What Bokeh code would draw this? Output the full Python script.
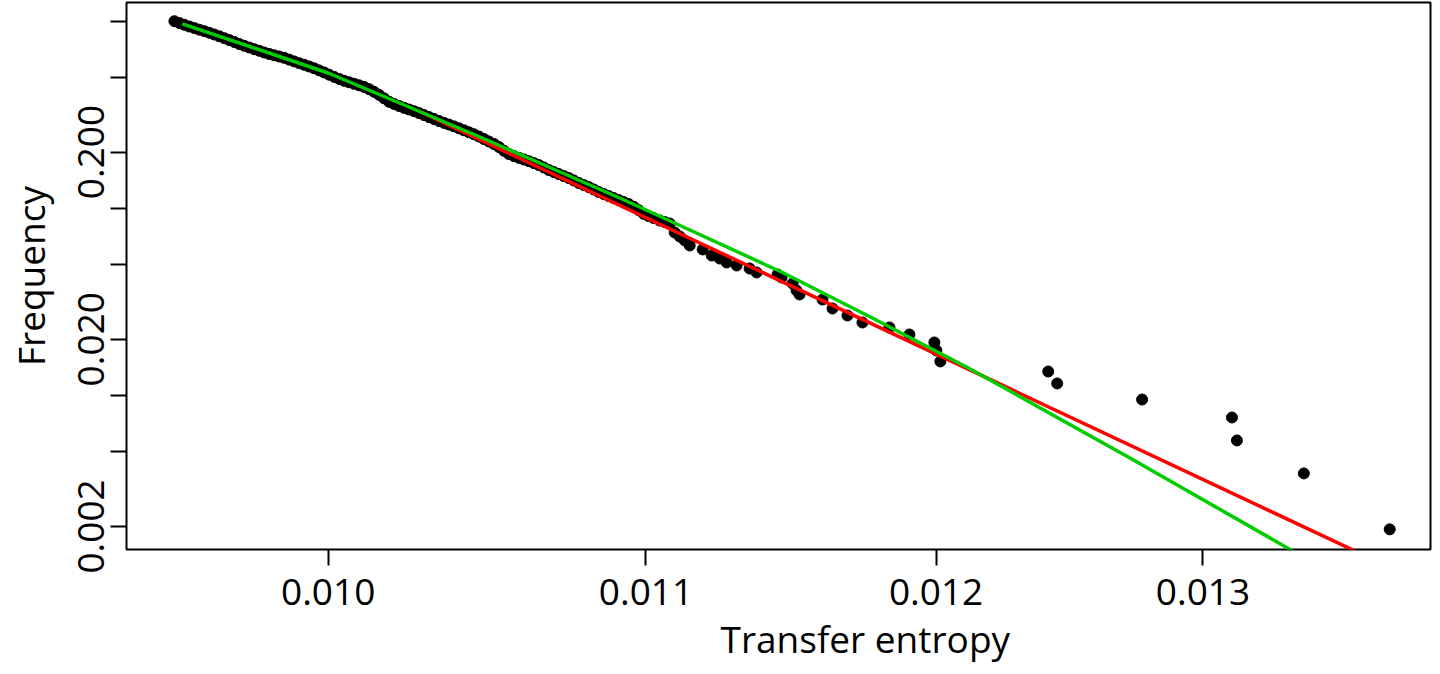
from bokeh.plotting import figure
from bokeh.models import Range1d, FixedTicker, Title
from bokeh.embed import file_html
from bokeh.resources import INLINE

# Empirical CCDF points (transfer entropy, frequency), read along the dense band
te = [0.0095493, 0.0095636, 0.0095779, 0.0095923, 0.0096067, 0.0096211, 0.0096355,
      0.0096499, 0.0096644, 0.0096789, 0.0096934, 0.0097079, 0.0097225, 0.0097370,
      0.0097516, 0.0097662, 0.0097809, 0.0097955, 0.0098102, 0.0098249, 0.0098396,
      0.0098543, 0.0098691, 0.0098839, 0.0098987, 0.0099135, 0.0099284, 0.0099433,
      0.0099582, 0.0099731, 0.0099881, 0.0100031, 0.0100181, 0.0100331, 0.0100481,
      0.0100632, 0.0100782, 0.0100933, 0.0101085, 0.0101236, 0.0101388, 0.0101540,
      0.0101692, 0.0101845, 0.0101997, 0.0102150, 0.0102303, 0.0102456, 0.0102610,
      0.0102764, 0.0102918, 0.0103072, 0.0103227, 0.0103381, 0.0103536, 0.0103691,
      0.0103847, 0.0104002, 0.0104158, 0.0104314, 0.0104471, 0.0104627, 0.0104784,
      0.0104941, 0.0105098, 0.0105256, 0.0105413, 0.0105571, 0.0105729, 0.0105888,
      0.0106047, 0.0106206, 0.0106365, 0.0106524, 0.0106684, 0.0106844, 0.0107004,
      0.0107164, 0.0107325, 0.0107486, 0.0107647, 0.0107808, 0.0107970, 0.0108131,
      0.0108293, 0.0108456, 0.0108618, 0.0108781, 0.0108944, 0.0109107, 0.0109271,
      0.0109435, 0.0109599, 0.0109763, 0.0109927, 0.0110092, 0.0110257,
      0.0110455, 0.0110620, 0.0110786,
      0.0110952, 0.0111119, 0.0111285, 0.0111452, 0.0111887, 0.0112189, 0.0112458,
      0.0112694, 0.0113032, 0.0113473, 0.0113711, 0.0114429, 0.0114566, 0.0114944,
      0.0115082, 0.0115185, 0.0115981, 0.0116329, 0.0116853, 0.0117379, 0.0118332,
      0.0119043, 0.0119938, 0.0120010, 0.0120154, 0.0124104, 0.0124439, 0.0127647,
      0.0131134, 0.0131330, 0.0133992, 0.0137488]
freq = [1.0000, 0.97810, 0.95668, 0.93689, 0.91863, 0.90073, 0.88426, 0.86703,
        0.84909, 0.83050, 0.81131, 0.79258, 0.77428, 0.75546, 0.73892, 0.72363,
        0.70866, 0.69485, 0.68047, 0.66803, 0.65743, 0.64780, 0.63752, 0.62356,
        0.60991, 0.59655, 0.58493, 0.57282, 0.56028, 0.54599, 0.53207, 0.51786,
        0.50404, 0.49179, 0.48043, 0.47165, 0.46303, 0.45456, 0.44570, 0.43327,
        0.41963, 0.40393, 0.38739, 0.37106, 0.36116, 0.35238, 0.34466, 0.33753,
        0.33055, 0.32292, 0.31507, 0.30741, 0.30031, 0.29301, 0.28625, 0.28032,
        0.27418, 0.26785, 0.26134, 0.25499, 0.24880, 0.24215, 0.23482, 0.22771,
        0.22081, 0.21281, 0.20309, 0.19525, 0.19027, 0.18633, 0.18248, 0.17870,
        0.17458, 0.17033, 0.16538, 0.16037, 0.15628, 0.15248, 0.14878, 0.14516,
        0.14094, 0.13667, 0.13318, 0.12994, 0.12616, 0.12234, 0.11922, 0.11632,
        0.11350, 0.11074, 0.10805, 0.10542, 0.10198, 0.09780, 0.09346, 0.09096,
        0.08875,
        0.08617, 0.08460, 0.08305,
        0.07435, 0.07078, 0.06739, 0.06337, 0.06033, 0.05603, 0.05400, 0.05141,
        0.04955, 0.04775, 0.04546, 0.04435, 0.04275, 0.03971, 0.03643, 0.03468,
        0.03261, 0.02920, 0.02679, 0.02458, 0.02311, 0.02120, 0.01922, 0.01742,
        0.01522, 0.01345, 0.01161, 0.00953, 0.00764, 0.00576, 0.00384, 0.00193]

# Power-law fit (red)
pl_x = [0.010280, 0.0137488]
pl_y = [0.3290, 0.00121]

# Log-normal fit (green)
ln_x = [0.0095722, 0.0100000, 0.0102272, 0.0104658, 0.0106875, 0.0109140,
        0.0111786, 0.0114599, 0.0117625, 0.0121201, 0.0127150, 0.0133512,
        0.0134999]
ln_y = [0.96853, 0.52881, 0.35894, 0.24067, 0.16538, 0.11364,
        0.07254, 0.04546, 0.02645, 0.013956, 0.0046706, 0.0014879,
        0.0011351]

x_ticks = [0.010, 0.011, 0.012, 0.013]
x_labels = ["0.010", "0.011", "0.012", "0.013"]
y_ticks = [0.002, 0.005, 0.01, 0.02, 0.05, 0.1, 0.2, 0.5, 1]
y_labels = ["0.002", "", "", "0.020", "", "", "0.200", "", ""]

FONT = "Open Sans"

p = figure(width=1432, height=666, x_axis_type="log", y_axis_type="log",
           x_range=Range1d(0.0094131, 0.013918),
           y_range=Range1d(0.0015058, 1.2586),
           output_backend="svg", toolbar_location=None,
           min_border_left=126, min_border_right=2, min_border_top=2,
           min_border_bottom=117)

p.scatter(te, freq, size=11, color="black")
p.line(pl_x, pl_y, line_color="#FF0000", line_width=3.5)
p.line(ln_x, ln_y, line_color="#00CD00", line_width=3.5)

p.xgrid.visible = False
p.ygrid.visible = False
p.outline_line_color = "black"
p.outline_line_width = 2
p.background_fill_color = "white"
p.border_fill_color = "white"

for ax in (p.xaxis[0], p.yaxis[0]):
    ax.axis_line_color = None
    ax.major_tick_line_color = "black"
    ax.major_tick_line_width = 2
    ax.major_tick_out = 16
    ax.major_tick_in = 0
    ax.minor_tick_line_color = None
    ax.major_label_text_font = FONT
    ax.major_label_text_font_size = "37px"
    ax.major_label_text_color = "black"

p.xaxis[0].ticker = FixedTicker(ticks=x_ticks)
p.xaxis[0].major_label_overrides = {t: l for t, l in zip(x_ticks, x_labels)}
p.xaxis[0].major_label_standoff = 13

p.yaxis[0].ticker = FixedTicker(ticks=y_ticks)
p.yaxis[0].major_label_overrides = {t: l for t, l in zip(y_ticks, y_labels)}
p.yaxis[0].major_label_orientation = "vertical"
p.yaxis[0].major_label_standoff = 6
p.yaxis[0].axis_label = "Frequency"
p.yaxis[0].axis_label_text_font = FONT
p.yaxis[0].axis_label_text_font_size = "37px"
p.yaxis[0].axis_label_text_font_style = "normal"
p.yaxis[0].axis_label_text_color = "black"
p.yaxis[0].axis_label_standoff = 20

xt = Title(text="Transfer entropy", align="left", offset=594,
           text_font=FONT, text_font_size="37px", text_font_style="normal",
           text_color="black", standoff=6)
p.add_layout(xt, "below")

open("out.html", "w").write(file_html(p, INLINE))
